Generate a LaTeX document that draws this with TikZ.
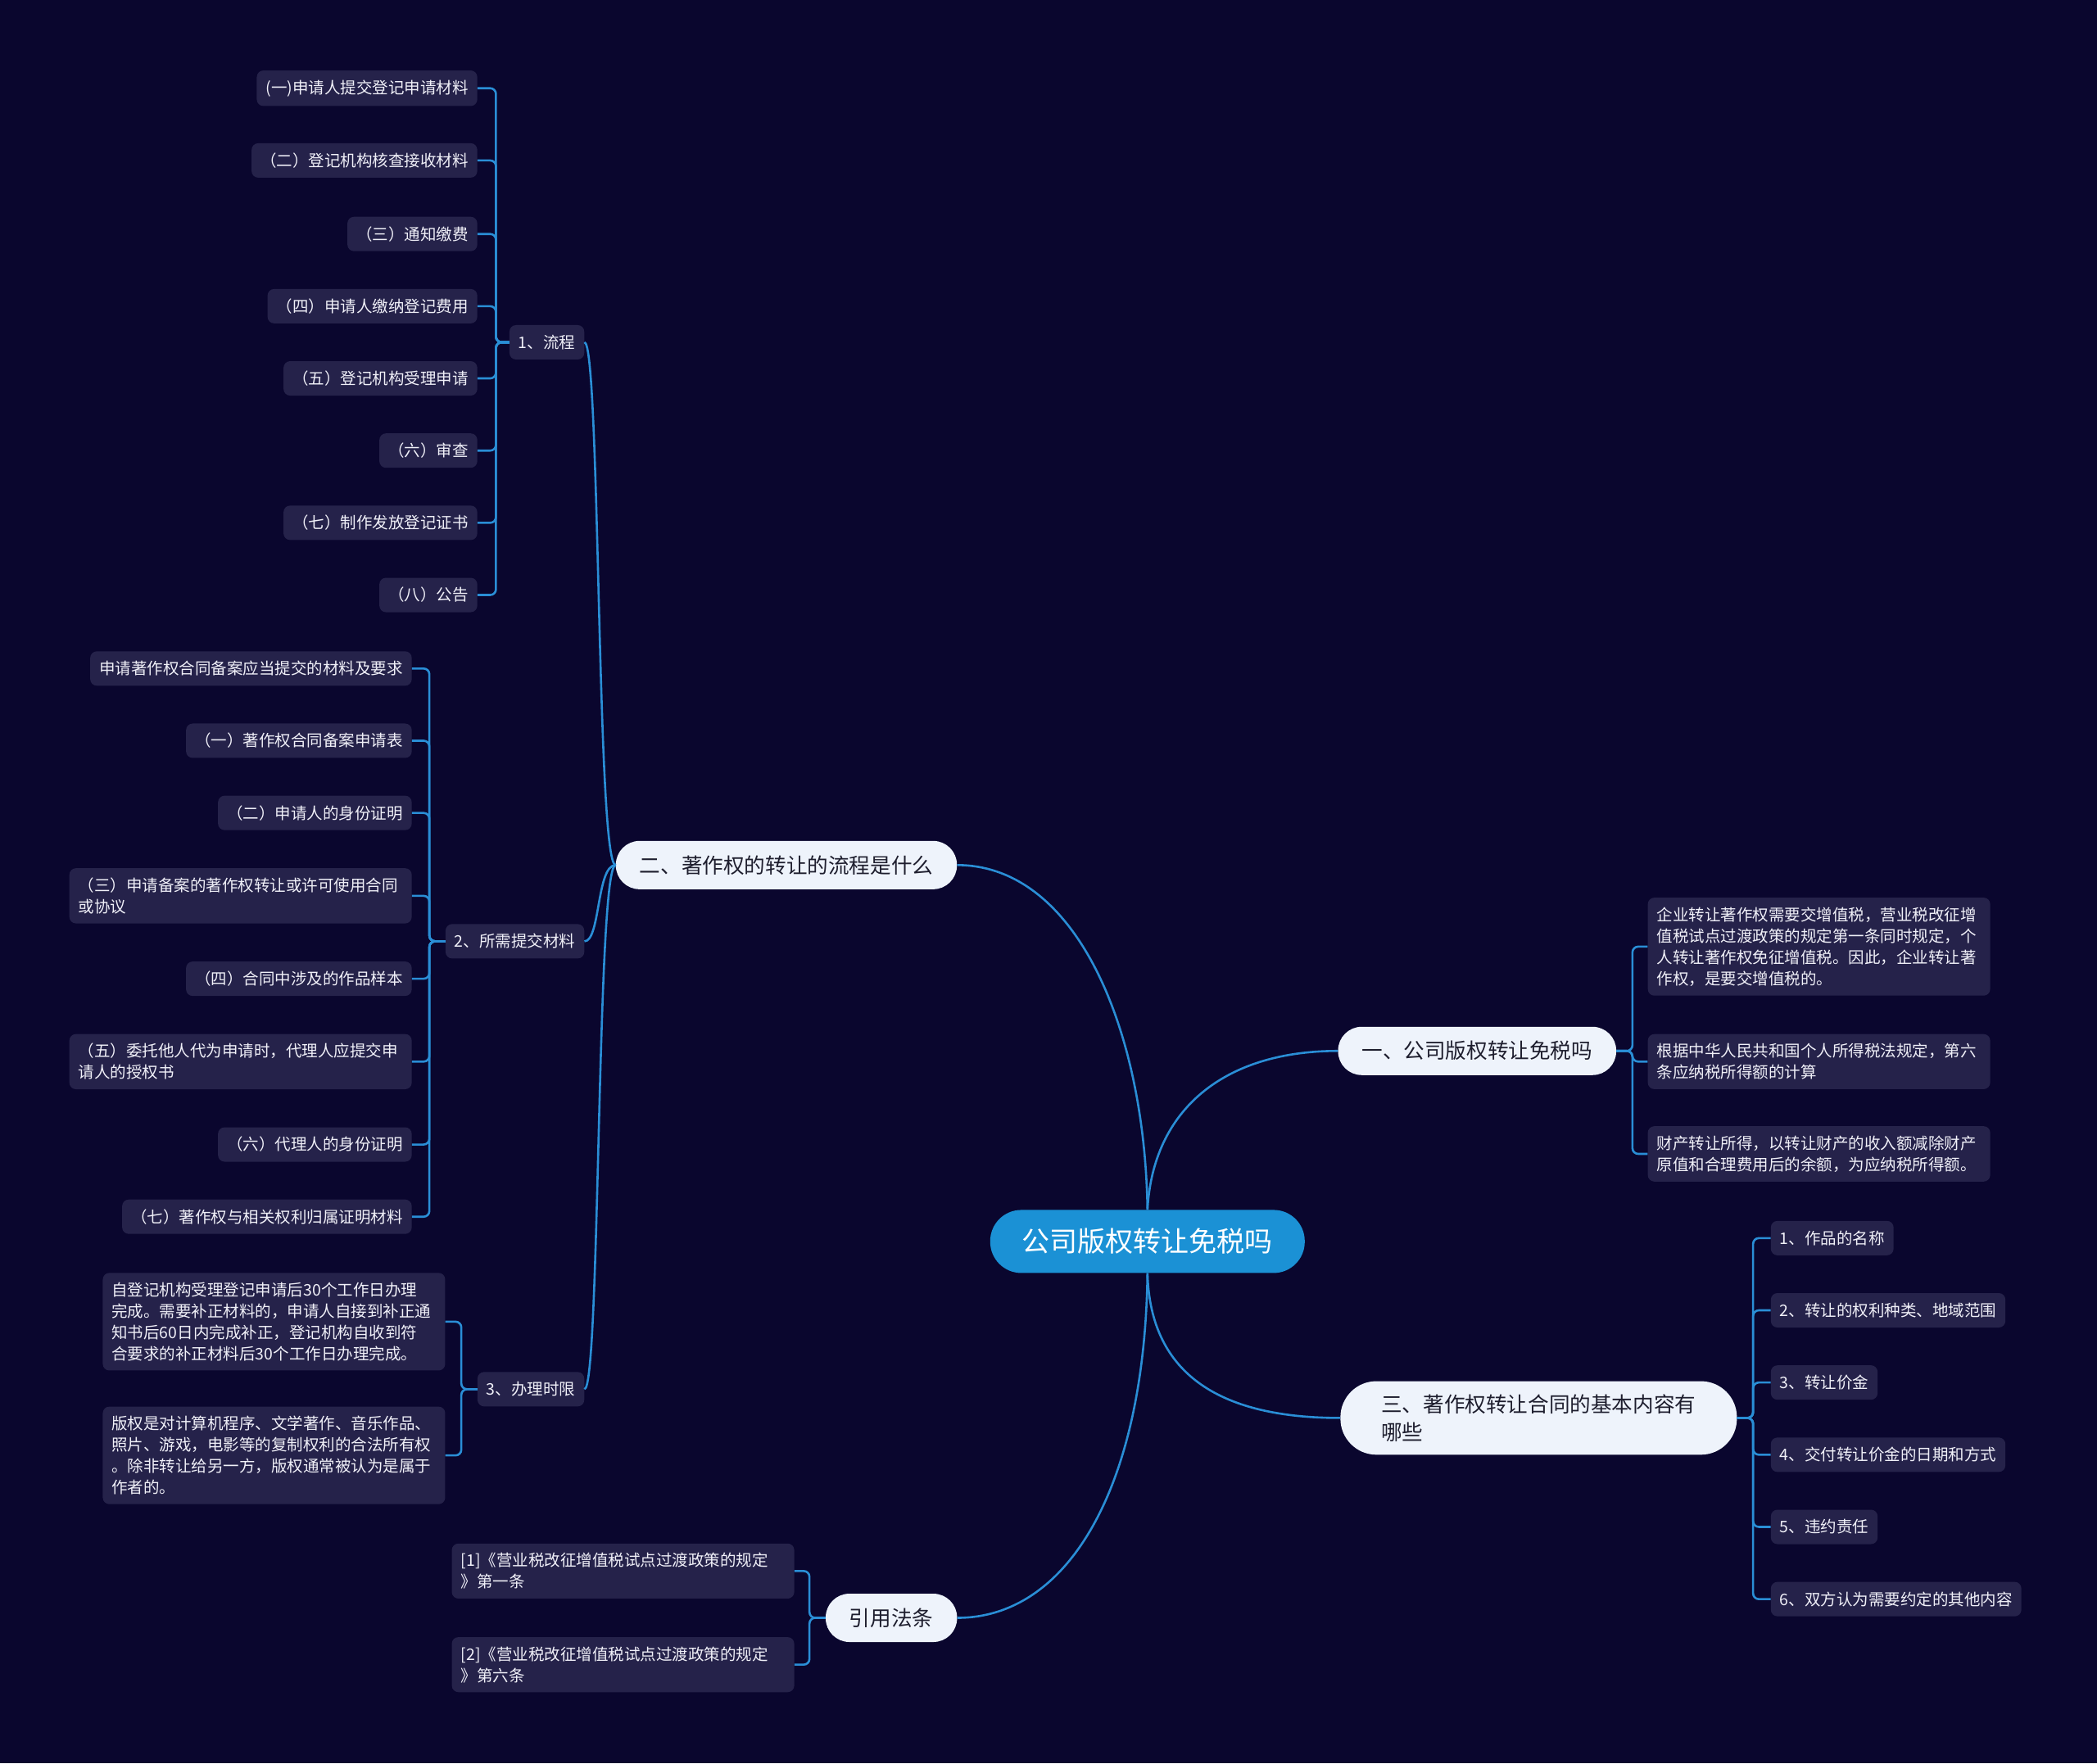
\documentclass[tikz,border=0pt]{standalone}
\usepackage{fontspec}
\setmainfont{Noto Sans CJK SC}
\definecolor{bgc}{RGB}{10,6,46}
\definecolor{leaffill}{RGB}{37,34,74}
\definecolor{leaftext}{RGB}{240,240,248}
\definecolor{lightfill}{RGB}{238,243,251}
\definecolor{darktext}{RGB}{30,30,46}
\definecolor{rootfill}{RGB}{27,145,213}
\definecolor{lineblue}{RGB}{42,142,214}
\begin{document}
\begin{tikzpicture}[x=1.6327pt,y=-1.6327pt,
  conn/.style={draw=lineblue, line width=2.6pt},
  brk/.style={conn, rounded corners=7pt},
  leaf/.style={fill=leaffill, text=leaftext, rounded corners=8pt, inner xsep=11pt, inner ysep=11.5pt, minimum height=42pt, font=\fontsize{19.5}{26}\selectfont, align=left},
  wide/.style={text width=396pt},
  lvone/.style={fill=lightfill, text=darktext, rounded corners=29pt, inner xsep=29pt, inner ysep=16pt, minimum height=59pt, font=\fontsize{25.6}{34}\selectfont, align=left},
  rootbox/.style={fill=rootfill, text=white, rounded corners=38pt, inner xsep=39pt, inner ysep=21pt, minimum height=77pt, font=\fontsize{34}{40}\selectfont}
]
\useasboundingbox (0,0) rectangle (1568,1319);
\fill[bgc] (0,0) rectangle (1568,1319);

% root
\node[rootbox] (root) at (858,928.5) {公司版权转让免税吗};

% level one
\node[lvone] (n2) at (588,647) {二、著作权的转让的流程是什么};
\node[lvone] (n1) at (1104.5,786) {一、公司版权转让免税吗};
\node[lvone, rounded corners=44pt, inner xsep=50pt] (n3) at (1150.5,1060.5) {三、著作权转让合同的基本内容有\\哪些};
\node[lvone] (law) at (666.5,1210) {引用法条};

% level two under n2
\node[leaf, anchor=east] (p1) at (437,256) {1、流程};
\node[leaf, anchor=east] (p2) at (437,704) {2、所需提交材料};
\node[leaf, anchor=east] (p3) at (437,1039) {3、办理时限};

% leaves of p1
\node[leaf, anchor=east] (a1) at (357,66) {(一)申请人提交登记申请材料};
\node[leaf, anchor=east] (a2) at (357,120) {（二）登记机构核查接收材料};
\node[leaf, anchor=east] (a3) at (357,175) {（三）通知缴费};
\node[leaf, anchor=east] (a4) at (357,229) {（四）申请人缴纳登记费用};
\node[leaf, anchor=east] (a5) at (357,283) {（五）登记机构受理申请};
\node[leaf, anchor=east] (a6) at (357,337) {（六）审查};
\node[leaf, anchor=east] (a7) at (357,391) {（七）制作发放登记证书};
\node[leaf, anchor=east] (a8) at (357,445) {（八）公告};

% leaves of p2
\node[leaf, anchor=east] (b1) at (308,500) {申请著作权合同备案应当提交的材料及要求};
\node[leaf, anchor=east] (b2) at (308,554) {（一）著作权合同备案申请表};
\node[leaf, anchor=east] (b3) at (308,608) {（二）申请人的身份证明};
\node[leaf, wide, anchor=east] (b4) at (308,670) {（三）申请备案的著作权转让或许可使用合同\\或协议};
\node[leaf, anchor=east] (b5) at (308,732) {（四）合同中涉及的作品样本};
\node[leaf, wide, anchor=east] (b6) at (308,794) {（五）委托他人代为申请时，代理人应提交申\\请人的授权书};
\node[leaf, anchor=east] (b7) at (308,856) {（六）代理人的身份证明};
\node[leaf, anchor=east] (b8) at (308,910) {（七）著作权与相关权利归属证明材料};

% leaves of p3
\node[leaf, wide, anchor=east] (c1) at (333,988.5) {自登记机构受理登记申请后30个工作日办理\\完成。需要补正材料的，申请人自接到补正通\\知书后60日内完成补正，登记机构自收到符\\合要求的补正材料后30个工作日办理完成。};
\node[leaf, wide, anchor=east] (c2) at (333,1088.5) {版权是对计算机程序、文学著作、音乐作品、\\照片、游戏，电影等的复制权利的合法所有权\\。除非转让给另一方，版权通常被认为是属于\\作者的。};

% leaves of law
\node[leaf, wide, anchor=east] (d1) at (594,1175) {[1]《营业税改征增值税试点过渡政策的规定\\》第一条};
\node[leaf, wide, anchor=east] (d2) at (594,1245) {[2]《营业税改征增值税试点过渡政策的规定\\》第六条};

% leaves of n1
\node[leaf, wide, anchor=west] (e1) at (1232,708) {企业转让著作权需要交增值税，营业税改征增\\值税试点过渡政策的规定第一条同时规定，个\\人转让著作权免征增值税。因此，企业转让著\\作权，是要交增值税的。};
\node[leaf, wide, anchor=west] (e2) at (1232,794) {根据中华人民共和国个人所得税法规定，第六\\条应纳税所得额的计算};
\node[leaf, wide, anchor=west] (e3) at (1232,863) {财产转让所得，以转让财产的收入额减除财产\\原值和合理费用后的余额，为应纳税所得额。};

% leaves of n3
\node[leaf, anchor=west] (f1) at (1324,926) {1、作品的名称};
\node[leaf, anchor=west] (f2) at (1324,980) {2、转让的权利种类、地域范围};
\node[leaf, anchor=west] (f3) at (1324,1034) {3、转让价金};
\node[leaf, anchor=west] (f4) at (1324,1088) {4、交付转让价金的日期和方式};
\node[leaf, anchor=west] (f5) at (1324,1142) {5、违约责任};
\node[leaf, anchor=west] (f6) at (1324,1196) {6、双方认为需要约定的其他内容};

% root connectors
\draw[conn] (n2.east) .. controls (805,647) and (856,770) .. (root.north);
\draw[conn] (root.north) .. controls (862,830) and (915,786) .. (n1.west);
\draw[conn] (root.south) .. controls (860,1030) and (915,1060.5) .. (n3.west);
\draw[conn] (root.south) .. controls (856,1110) and (800,1210) .. (law.east);

% n2 to level two
\draw[conn] (n2.west) .. controls (446,647) and (449,256) .. (p1.east);
\draw[conn] (n2.west) .. controls (446,647) and (449,704) .. (p2.east);
\draw[conn] (n2.west) .. controls (446,647) and (449,1039) .. (p3.east);

% brackets
\foreach \c in {a1,a2,a3,a4,a5,a6,a7,a8}
  \draw[brk] (p1.west) -- ++(-10,0) |- (\c.east);
\foreach \c in {b1,b2,b3,b4,b5,b6,b7,b8}
  \draw[brk] (p2.west) -- ++(-12,0) |- (\c.east);
\foreach \c in {c1,c2}
  \draw[brk] (p3.west) -- ++(-12,0) |- (\c.east);
\foreach \c in {d1,d2}
  \draw[brk] (law.west) -- ++(-12,0) |- (\c.east);
\foreach \c in {e1,e2,e3}
  \draw[brk] (n1.east) -- ++(12,0) |- (\c.west);
\foreach \c in {f1,f2,f3,f4,f5,f6}
  \draw[brk] (n3.east) -- ++(12,0) |- (\c.west);
\end{tikzpicture}
\end{document}
